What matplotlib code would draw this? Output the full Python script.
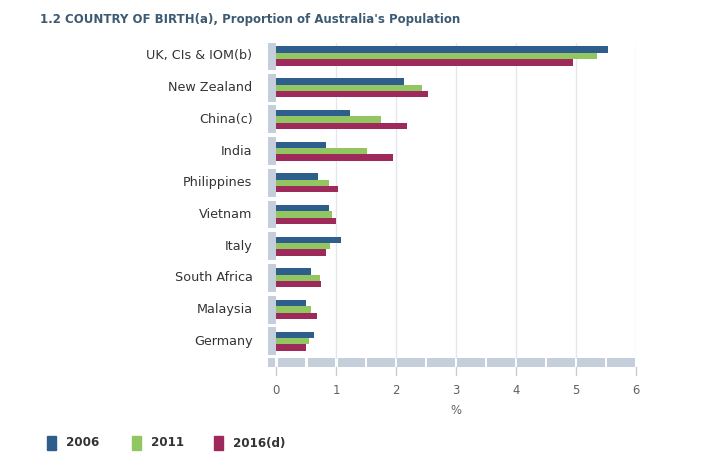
import matplotlib
matplotlib.use("Agg")
import matplotlib.pyplot as plt
import matplotlib.patches as mpatches
import numpy as np

# data
countries = ["UK, CIs & IOM(b)", "New Zealand", "China(c)", "India", "Philippines",
             "Vietnam", "Italy", "South Africa", "Malaysia", "Germany"]
y2006 = [5.53, 2.13, 1.23, 0.83, 0.70, 0.87, 1.07, 0.58, 0.50, 0.62]
y2011 = [5.35, 2.43, 1.74, 1.51, 0.87, 0.93, 0.90, 0.73, 0.58, 0.55]
y2016 = [4.95, 2.53, 2.18, 1.95, 1.03, 0.99, 0.82, 0.75, 0.68, 0.50]
series_labels = ["2006", "2011", "2016(d)"]
colors = ["#2e5f8c", "#92c660", "#9e2a5c"]
xticks = [0, 1, 2, 3, 4, 5, 6]

W, H = 710, 467
fig = plt.figure(figsize=(W / 100, H / 100), dpi=100)
fig.patch.set_facecolor("white")

# axes placed in pixel terms
left, right, top, bottom = 268, 636, 43, 367
ax = fig.add_axes([left / W, 1 - bottom / H, (right - left) / W, (bottom - top) / H])
ax.set_xlim(-0.14, 6.0)
ax.set_ylim(9.81, -0.41)
for s in ax.spines.values():
    s.set_visible(False)
ax.set_xticks([])
ax.set_yticks([])

strip = "#c5cfdc"
grid = "#e4e7eb"

# vertical gridlines
for t in xticks[1:]:
    ax.plot([t, t], [-0.41, 9.53], color=grid, lw=1, zorder=0)

# left category strips
for i in range(len(countries)):
    ax.add_patch(mpatches.Rectangle((-0.14, i - 0.44), 0.13, 0.88, color=strip, lw=0, zorder=1))

# bottom segmented band
edges = np.arange(0, 6.01, 0.5)
ax.add_patch(mpatches.Rectangle((-0.14, 9.53), 0.12, 0.28, color=strip, lw=0))
for a in edges[:-1]:
    ax.add_patch(mpatches.Rectangle((a + 0.02, 9.53), 0.46, 0.28, color=strip, lw=0))

# bars
y = np.arange(len(countries))
h = 0.2
for k, vals in enumerate([y2006, y2011, y2016]):
    ax.barh(y + (k - 1) * h, vals, height=h, left=0, color=colors[k], zorder=3)

# category labels
for i, c in enumerate(countries):
    ax.text(-0.4, i, c, ha="right", va="center", fontsize=9.2, color="#333333")

# ticks below the band
for t in xticks:
    ax.plot([t, t], [9.81, 10.05], color="#c8ccd2", lw=1, clip_on=False)
    ax.text(t, 10.55, str(t), ha="center", va="center", fontsize=8.4, color="#606060")
ax.text(3, 11.17, "%", ha="center", va="center", fontsize=8.4, color="#606060")

# title
fig.text(40 / W, 1 - 20 / H, "1.2 COUNTRY OF BIRTH(a), Proportion of Australia's Population",
         fontsize=8.5, fontweight="bold", color="#3d5a73", ha="left", va="center")

# legend
lx = [47, 132, 214]
for k, lab in enumerate(series_labels):
    fig.patches.append(mpatches.Rectangle((lx[k] / W, 1 - 450 / H), 9 / W, 14 / H,
                                          transform=fig.transFigure, color=colors[k]))
    fig.text((lx[k] + 19) / W, 1 - 443 / H, lab, fontsize=8.6, fontweight="bold",
             color="#333333", ha="left", va="center")

fig.savefig("out.png", dpi=100)
